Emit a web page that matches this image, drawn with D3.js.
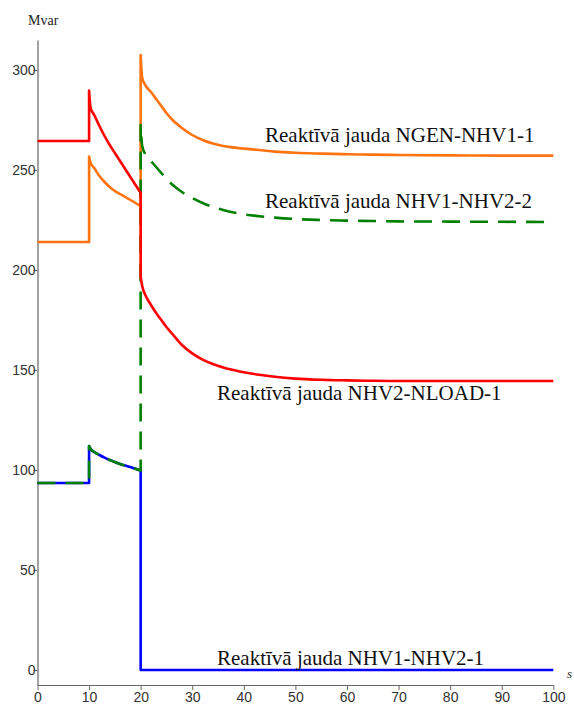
<!DOCTYPE html>
<html><head><meta charset="utf-8">
<script src="https://cdn.jsdelivr.net/npm/d3@7"></script>
<style>
html,body{margin:0;padding:0;background:#fff;}
svg{display:block;}
</style></head>
<body>
<svg id="chart" width="574" height="709"></svg>
<script>
const time = [0, 10, 10, 10.3, 11, 12, 13, 14, 15, 16, 17, 18, 19, 20, 20, 20.3, 21, 22, 23, 24, 25, 26, 28, 30, 32, 34, 36, 38, 40, 43, 46, 50, 55, 60, 65, 70, 80, 90, 100];
const ngenNhv1_1 = [214, 214, 256.7, 253.5, 251, 247, 244, 241.5, 239.5, 238, 236.5, 235, 233.5, 232, 307.5, 296, 292, 289, 285.5, 282, 278.5, 275.5, 271, 267.5, 265, 263.2, 262, 261.3, 260.7, 260, 259.2, 258.6, 258.2, 257.9, 257.7, 257.5, 257.3, 257.2, 257.2];
const nhv1Nhv2_2 = [93.5, 93.5, 112, 110.5, 109, 107.5, 106.2, 105, 104, 103, 102.2, 101.5, 100.6, 99.7, 272.5, 262, 257.5, 254.5, 251.5, 248.5, 245.5, 243, 239, 236, 233.5, 231.5, 230, 228.8, 227.8, 226.9, 226.2, 225.5, 225, 224.7, 224.5, 224.3, 224.2, 224.1, 224];
const nhv2Nload_1 = [264.5, 264.5, 289.7, 281, 277.5, 272, 267, 262.5, 258.5, 254.5, 250.5, 246.5, 242.5, 238.6, 196.5, 192, 187, 182.5, 178.5, 175, 171.5, 168.5, 162.5, 158.3, 155.2, 153, 151.3, 150, 148.9, 147.6, 146.6, 145.7, 145.1, 144.8, 144.6, 144.5, 144.5, 144.5, 144.5];
const nhv1Nhv2_1 = [93.5, 93.5, 112, 110.5, 109, 107.5, 106.2, 105, 104, 103, 102.2, 101.5, 100.6, 99.7, 0, 0, 0, 0, 0, 0, 0, 0, 0, 0, 0, 0, 0, 0, 0, 0, 0, 0, 0, 0, 0, 0, 0, 0, 0];
const seriesNames = ["Reaktīvā jauda NGEN-NHV1-1", "Reaktīvā jauda NHV1-NHV2-2", "Reaktīvā jauda NHV2-NLOAD-1", "Reaktīvā jauda NHV1-NHV2-1"];
const xTicks = [0, 10, 20, 30, 40, 50, 60, 70, 80, 90, 100];
const yTicks = [0, 50, 100, 150, 200, 250, 300];
const xUnit = "s";
const yUnit = "Mvar";

const svg = d3.select("#chart");
const x = d3.scaleLinear().domain([0, 100]).range([37.5, 553.3]);
const y = d3.scaleLinear().domain([-7.5, 315]).range([685, 40]);

const axisColor = "#666";
const textColor = "#333";

const gx = svg.append("g").attr("transform", `translate(0,${y(-7.5)})`)
  .call(d3.axisBottom(x).tickValues(xTicks).tickSizeInner(5).tickSizeOuter(0).tickPadding(2));
const gy = svg.append("g").attr("transform", `translate(${x(0)},0)`)
  .call(d3.axisLeft(y).tickValues(yTicks).tickSizeInner(4).tickSizeOuter(0).tickPadding(-2));
[gx, gy].forEach(g => {
  g.select(".domain").attr("stroke", axisColor).attr("stroke-width", 1.2);
  g.selectAll(".tick line").attr("stroke", axisColor).attr("stroke-width", 1);
  g.selectAll(".tick text").attr("fill", textColor).style("font-family", "'Liberation Sans', Arial, sans-serif").style("font-size", "14px");
});

svg.append("text").attr("x", 28).attr("y", 25).text(yUnit)
  .style("font-family", "'Liberation Serif', 'Times New Roman', serif").style("font-size", "14px").attr("fill", "#222");
svg.append("text").attr("x", 567).attr("y", 678).text(xUnit)
  .style("font-family", "'Liberation Serif', 'Times New Roman', serif").style("font-size", "13px").style("font-style", "italic").attr("fill", "#222");

// smooth each continuous segment, join segments with vertical jumps
const segLine = d3.line().x(d => x(d[0])).y(d => y(d[1])).curve(d3.curveMonotoneX);
function pathFor(vals) {
  const segs = [];
  let cur = [];
  vals.forEach((v, i) => {
    if (i > 0 && time[i] === time[i - 1]) { segs.push(cur); cur = []; }
    cur.push([time[i], v]);
  });
  segs.push(cur);
  return segs.map((s, k) => {
    const d = s.length > 1 ? segLine(s) : `M${x(s[0][0])},${y(s[0][1])}`;
    return k === 0 ? d : d.replace(/^M/, "L");
  }).join("");
}

const series = [
  {vals: nhv1Nhv2_1, color: "#0000ff", dash: null},
  {vals: ngenNhv1_1, color: "#ff7410", dash: null},
  {vals: nhv1Nhv2_2, color: "#008000", dash: "18,10"},
  {vals: nhv2Nload_1, color: "#ff0000", dash: null}
];
series.forEach(s => {
  svg.append("path").attr("d", pathFor(s.vals))
    .attr("fill", "none").attr("stroke", s.color).attr("stroke-width", 2.6)
    .attr("stroke-linejoin", "round")
    .attr("stroke-dasharray", s.dash);
});

const labels = [
  {text: seriesNames[0], px: 265, py: 142},
  {text: seriesNames[1], px: 265, py: 208},
  {text: seriesNames[2], px: 217, py: 400},
  {text: seriesNames[3], px: 217, py: 665}
];
svg.selectAll(".lbl").data(labels).join("text").attr("class", "lbl")
  .attr("x", d => d.px).attr("y", d => d.py).text(d => d.text)
  .style("font-family", "'Liberation Serif', 'Times New Roman', serif").style("font-size", "21px").attr("fill", "#111");
</script>
</body></html>
